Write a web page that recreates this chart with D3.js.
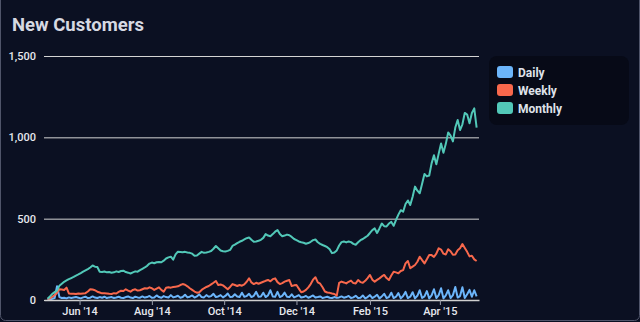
<!DOCTYPE html>
<html>
<head>
<meta charset="utf-8">
<script src="https://cdn.jsdelivr.net/npm/d3@7"></script>
<style>
  html, body { margin: 0; padding: 0; background: #0b1022; }
  svg { display: block; }
  text { font-family: Roboto, "Noto Sans", sans-serif; }
</style>
</head>
<body>
<svg id="chart" width="640" height="322"></svg>
<script>
// New customers per day, sampled every second day from 5 May 2014
const startDate = new Date(2014, 4, 5);
const stepDays = 2;

const daily = [
  2, 5, 8, 12, 85, 18, 12, 14, 10, 16,
  12, 15, 18, 14, 10, 16, 20, 12, 14, 22,
  15, 12, 18, 14, 20, 12, 16, 18, 12, 15,
  20, 14, 12, 18, 22, 15, 12, 20, 16, 14,
  22, 15, 18, 25, 14, 16, 28, 18, 14, 24,
  18, 15, 30, 16, 20, 26, 14, 18, 32, 16,
  20, 28, 15, 22, 35, 18, 16, 30, 20, 24,
  38, 18, 22, 30, 16, 25, 40, 18, 20, 35,
  22, 18, 45, 20, 24, 38, 18, 26, 50, 20,
  22, 45, 18, 28, 60, 22, 20, 50, 18, 25,
  45, 20, 18, 35, 16, 22, 30, 15, 18, 25,
  14, 20, 28, 15, 18, 22, 12, 16, 20, 14,
  12, 18, 14, 16, 22, 14, 18, 25, 12, 16,
  26, 12, 14, 28, 10, 18, 30, 12, 20, 32,
  10, 22, 38, 12, 18, 45, 12, 20, 42, 10,
  24, 50, 12, 20, 48, 10, 26, 60, 12, 22,
  55, 10, 28, 66, 12, 30, 72, 10, 28, 60,
  12, 30, 80, 15, 24, 78, 12, 35, 62, 20,
  60, 22
];

const weekly = [
  5, 10, 20, 30, 45, 66, 64, 62, 76, 40,
  38, 39, 37, 40, 38, 40, 42, 52, 66, 64,
  60, 51, 46, 41, 42, 40, 38, 37, 42, 40,
  50, 57, 55, 66, 58, 51, 62, 66, 58, 60,
  66, 72, 70, 78, 72, 62, 70, 78, 62, 51,
  75, 78, 76, 80, 82, 84, 92, 98, 94, 84,
  72, 62, 52, 45, 48, 62, 72, 80, 86, 96,
  106, 117, 92, 95, 90, 78, 66, 80, 98, 92,
  86, 92, 88, 96, 112, 133, 108, 98, 106, 100,
  106, 112, 118, 123, 115, 128, 133, 110, 98, 104,
  113, 118, 123, 86, 90, 92, 70, 48, 52, 62,
  78, 98, 125, 140, 108, 100, 78, 52, 46, 44,
  40, 37, 27, 105, 113, 108, 102, 112, 119, 104,
  102, 123, 110, 106, 118, 135, 154, 125, 113, 124,
  133, 145, 154, 135, 123, 150, 174, 170, 164, 178,
  184, 225, 240, 195, 205, 215, 235, 266, 245, 225,
  250, 277, 276, 265, 285, 318, 310, 285, 280, 312,
  300, 278, 280, 306, 318, 344, 320, 296, 268, 272,
  250, 240
];

const monthly = [
  8, 22, 38, 48, 58, 88, 100, 112, 120, 128,
  135, 142, 150, 157, 165, 174, 182, 190, 200, 212,
  205, 203, 174, 172, 175, 170, 172, 168, 170, 176,
  172, 178, 180, 172, 168, 163, 170, 176, 174, 184,
  192, 200, 210, 224, 230, 226, 232, 234, 232, 242,
  255, 262, 266, 248, 280, 297, 295, 293, 296, 292,
  290, 285, 272, 274, 285, 296, 290, 292, 296, 301,
  315, 332, 318, 304, 300, 298, 302, 308, 332, 340,
  350, 358, 364, 372, 380, 384, 370, 358, 360, 364,
  370, 382, 405, 396, 392, 405, 420, 430, 405, 392,
  396, 402, 398, 388, 375, 368, 360, 355, 352, 346,
  350, 358, 368, 372, 355, 345, 338, 332, 325, 312,
  288, 292, 305, 335, 356, 360, 354, 360, 356, 345,
  340, 355, 368, 375, 385, 395, 412, 430, 440, 412,
  440, 470, 454, 452, 470, 480, 456, 492, 525, 552,
  543, 590, 612, 584, 635, 697, 672, 656, 715, 775,
  760, 765, 840, 890, 835, 900, 962, 905, 960, 1030,
  1010, 975, 1060, 1107, 1045, 1080, 1150, 1140, 1086, 1150,
  1178, 1060
];

const seriesNames = ["Daily", "Weekly", "Monthly"];
const seriesColors = ["#6cb5fa", "#f8684c", "#52c8b8"];
const yTicks = [0, 500, 1000, 1500];
const xTickDates = ["2014-06-01", "2014-08-01", "2014-10-01", "2014-12-01", "2015-02-01", "2015-04-01"];

const dates = daily.map((_, i) => d3.timeDay.offset(startDate, i * stepDays));
const series = [daily, weekly, monthly].map((values, k) => ({
  name: seriesNames[k],
  color: seriesColors[k],
  points: values.map((v, i) => ({ date: dates[i], value: v }))
}));

const svg = d3.select("#chart");
const W = 640, H = 322;
const plot = { left: 44, right: 479, top: 56, bottom: 300 };

// outer frame
svg.append("rect")
  .attr("x", 0.5).attr("y", -6)
  .attr("width", W - 1).attr("height", H - 1.5 + 6 - 0)
  .attr("rx", 5)
  .attr("fill", "#0b1022")
  .attr("stroke", "#50556a")
  .attr("stroke-width", 1);

// title
svg.append("text")
  .attr("x", 12).attr("y", 31)
  .attr("fill", "#d6d9e2")
  .attr("font-size", 18.5)
  .attr("font-weight", 700)
  .text("New Customers");

const x = d3.scaleTime()
  .domain([new Date(2014, 4, 2), new Date(2015, 4, 4)])
  .range([plot.left, plot.right]);

const y = d3.scaleLinear()
  .domain([0, 1500])
  .range([plot.bottom, plot.top]);

// horizontal grid + y labels
const yAxis = d3.axisLeft(y)
  .tickValues(yTicks)
  .tickFormat(d3.format(","))
  .tickSize(-(plot.right - plot.left))
  .tickPadding(8);

const gy = svg.append("g")
  .attr("transform", `translate(${plot.left},0)`)
  .call(yAxis);
gy.select(".domain").remove();
gy.selectAll(".tick line")
  .attr("stroke", "#d4d4d4")
  .attr("stroke-width", 1);
gy.selectAll(".tick text")
  .attr("fill", "#e6e8ee")
  .attr("font-size", 11)
  .attr("font-weight", 500)
  .attr("font-family", "Roboto, sans-serif");

// lines
const line = d3.line()
  .x(d => x(d.date))
  .y(d => y(d.value));

svg.append("g")
  .selectAll("path")
  .data(series)
  .join("path")
  .attr("d", d => line(d.points))
  .attr("fill", "none")
  .attr("stroke", d => d.color)
  .attr("stroke-width", 2)
  .attr("stroke-linejoin", "round");

// x axis
const xAxis = d3.axisBottom(x)
  .tickValues(xTickDates.map(s => d3.timeParse("%Y-%m-%d")(s)))
  .tickFormat(d3.timeFormat("%b '%y"))
  .tickSizeInner(5)
  .tickSizeOuter(0)
  .tickPadding(2);

const gx = svg.append("g")
  .attr("transform", `translate(0,${plot.bottom})`)
  .call(xAxis);
gx.select(".domain").attr("stroke", "#cfcfcf").attr("stroke-width", 1.5);
gx.selectAll(".tick line").attr("stroke", "#9a9eab");
gx.selectAll(".tick text")
  .attr("fill", "#e6e8ee")
  .attr("font-size", 11)
  .attr("font-weight", 500)
  .attr("font-family", "Roboto, sans-serif");

// legend
const legend = svg.append("g").attr("transform", "translate(489,56)");
legend.append("rect")
  .attr("width", 140).attr("height", 69)
  .attr("rx", 8)
  .attr("fill", "#070a17");

const item = legend.selectAll("g.item")
  .data(series)
  .join("g")
  .attr("class", "item")
  .attr("transform", (d, i) => `translate(8,${10 + i * 18})`);
item.append("rect")
  .attr("width", 16).attr("height", 12)
  .attr("rx", 3)
  .attr("fill", d => d.color);
item.append("text")
  .attr("x", 21).attr("y", 10.5)
  .attr("fill", "#dfe2ea")
  .attr("font-size", 12)
  .attr("font-weight", 700)
  .text(d => d.name);
</script>
</body>
</html>
